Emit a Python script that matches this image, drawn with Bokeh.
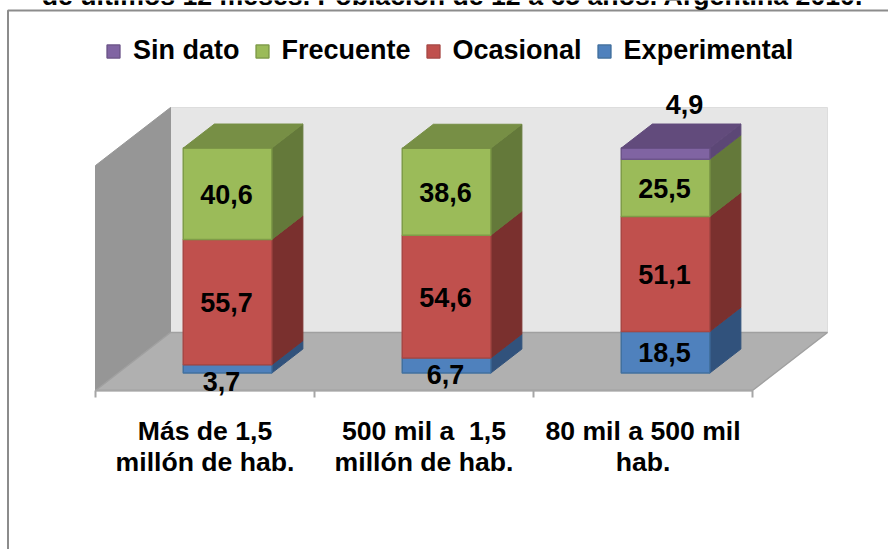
from bokeh.plotting import figure
from bokeh.embed import file_html
from bokeh.resources import INLINE
from bokeh.models import Legend, LegendItem
from bokeh.core.properties import value

title_text = "de últimos 12 meses. Población de 12 a 65 años. Argentina 2010."
categories = ["Más de 1,5\nmillón de hab.", "500 mil a \u00a01,5\nmillón de hab.", "80 mil a 500 mil\nhab."]
experimental = [3.7, 6.7, 18.5]
ocasional = [55.7, 54.6, 51.1]
frecuente = [40.6, 38.6, 25.5]
sin_dato = [0, 0, 4.9]
series_names = ["Experimental", "Ocasional", "Frecuente", "Sin dato"]
series_values = [experimental, ocasional, frecuente, sin_dato]

FONT = value("Liberation Sans")
front_col = ["#4F81BD", "#C0504D", "#9BBB59", "#8064A2"]
edge_col = ["#41709F", "#A84744", "#7F9C48", "#6C5489"]
side_col = ["#31527C", "#7A302E", "#64793A", "#5C4776"]
top_col = ["#3E6594", "#96403D", "#778F45", "#624B7C"]

# layout: pixel <-> data (x in category slots, y in percent)
PX0, PY0, PXU, PYU = 95.0, 390.0, 219.0, 2.25
def X(px): return (px - PX0) / PXU
def Y(py): return (PY0 - py) / PYU
W, H = 888, 549
p = figure(width=W, height=H, output_backend="svg", toolbar_location=None,
           x_range=(X(0), X(W)), y_range=(Y(H), Y(0)),
           x_axis_type=None, y_axis_type=None, min_border=0, outline_line_color=None)
p.grid.visible = False

DX, DY = 75.0 / PXU, 58.0 / PYU
def proj(x, y, d): return x + d * DX, y + d * DY
def quad(xs, ys, ds):
    pts = [proj(x, y, d) for x, y, d in zip(xs, ys, ds)]
    return [q[0] for q in pts], [q[1] for q in pts]

xs, ys = quad([0, 3, 3, 0], [0, 0, 100, 100], [1, 1, 1, 1])
p.patch(xs, ys, fill_color="#E6E6E6", line_color="#DDDDDD")
xs, ys = quad([0, 0, 0, 0], [0, 0, 100, 100], [0, 1, 1, 0])
p.patch(xs, ys, fill_color="#969696", line_color="#969696")
xs, ys = quad([0, 3, 3, 0], [0, 0, 0, 0], [0, 0, 1, 1])
p.patch(xs, ys, fill_color="#B0B0B0", line_color="#A0A0A0", line_width=1.5)

p.line([0, 3], [0, 0], line_color="#A6A6A6", line_width=2)
p.segment([0, 1, 2, 3], [0] * 4, [0, 1, 2, 3], [Y(397)] * 4, line_color="#A6A6A6", line_width=2)

BW = 88.5 / PXU
D0, D1 = 0.30, 0.715
legend_r = {}
n = len(categories)
base = [0.0] * n
tops = [0.0] * n
for si, (name, vals) in enumerate(zip(series_names, series_values)):
    fx, fy, sx, sy = [], [], [], []
    for i, v in enumerate(vals):
        if v <= 0:
            continue
        l, r = i + 0.5 - BW / 2, i + 0.5 + BW / 2
        b, t = base[i], base[i] + v
        a, c = quad([l, r, r, l], [b, b, t, t], [D0] * 4)
        fx.append(a); fy.append(c)
        a, c = quad([r, r, r, r], [b, b, t, t], [D0, D1, D1, D0])
        sx.append(a); sy.append(c)
        base[i] = t
        tops[i] = si
    p.patches(sx, sy, fill_color=side_col[si], line_color=side_col[si])
    legend_r[name] = p.patches(fx, fy, fill_color=front_col[si], line_color=edge_col[si], line_width=1.5)

for i in range(n):
    l, r = i + 0.5 - BW / 2, i + 0.5 + BW / 2
    a, c = quad([l, r, r, l], [base[i]] * 4, [D0, D0, D1, D1])
    p.patch(a, c, fill_color=top_col[tops[i]], line_color=top_col[tops[i]])

nudge = {(0, 0): (-6, 13), (0, 1): (-1, 9), (3, 2): (19, -49)}
lx, ly, lt = [], [], []
cum = [0.0] * n
for si, vals in enumerate(series_values):
    for i, v in enumerate(vals):
        if v <= 0:
            continue
        dx, dy = nudge.get((si, i), (-1, 0.5))
        xx, yy = proj(i + 0.5, cum[i] + v / 2, D0)
        lx.append(xx + dx / PXU); ly.append(yy - dy / PYU)
        lt.append(f"{v:.1f}".replace(".", ","))
        cum[i] += v
p.text(lx, ly, text=lt, text_font=FONT, text_font_size="27px", text_font_style="bold",
       text_color="black", text_align="center", text_baseline="middle")

p.text([i + 0.5 for i in range(n)], [Y(415)] * n, text=categories, text_font=FONT,
       text_font_size="26.6px", text_font_style="bold", text_color="black",
       text_align="center", text_baseline="top", text_line_height=1.06)

p.line([X(7.5), X(7.5), X(W)], [Y(H), Y(10), Y(10)], line_color="#8C8C8C", line_width=2)
p.text([X(452)], [Y(-5)], text=[title_text], text_font=FONT, text_font_size="26.7px",
       text_font_style="bold", text_color="black", text_align="center", text_baseline="alphabetic")

legend = Legend(items=[LegendItem(label=nm, renderers=[legend_r[nm]]) for nm in reversed(series_names)],
                orientation="horizontal", location=(105, H - 66), background_fill_alpha=0,
                border_line_color=None, padding=0, margin=0, spacing=14,
                label_standoff=12, glyph_width=16, glyph_height=16,
                label_text_font="Liberation Sans", label_text_font_size="27px",
                label_text_font_style="bold", label_text_color="black")
p.add_layout(legend, "center")

open("out.html", "w").write(file_html(p, INLINE))
